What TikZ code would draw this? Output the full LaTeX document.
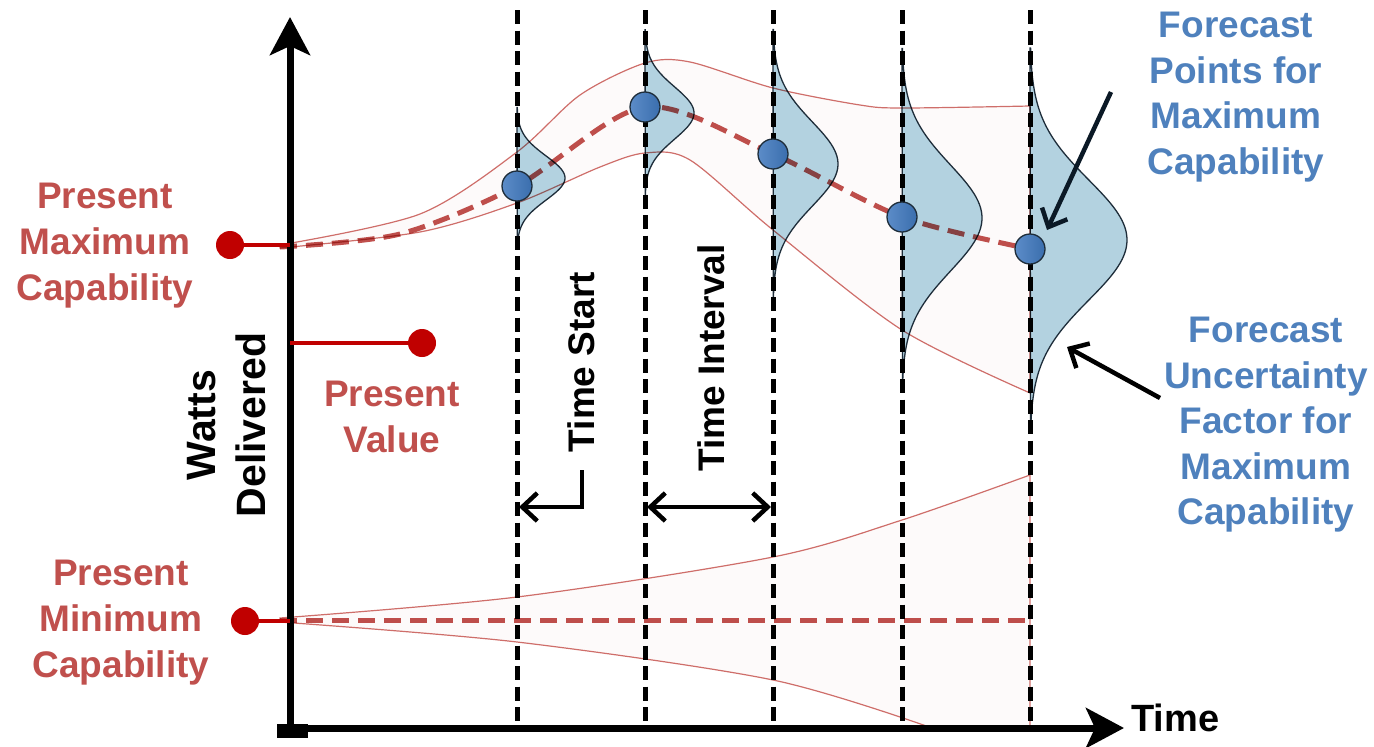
\documentclass[tikz,border=0pt]{standalone}
\usepackage{fontspec}
\setmainfont{Liberation Sans}
\usetikzlibrary{arrows.meta}
\definecolor{redtxt}{HTML}{C0504D}
\definecolor{bluetxt}{HTML}{4F81BD}
\definecolor{dotred}{HTML}{C00000}
\definecolor{bandline}{HTML}{D0706C}
\definecolor{bandfill}{HTML}{FDFAFA}
\definecolor{bellfill}{HTML}{B3D2E0}
\definecolor{belledge}{HTML}{1E2D3A}
\definecolor{navy}{HTML}{0B1926}
\definecolor{ptlight}{HTML}{5C8CC8}
\definecolor{ptdark}{HTML}{3A6EAD}
\begin{document}
\begin{tikzpicture}[x=1pt,y=-1pt,
  redlbl/.style={text=redtxt, font=\fontsize{37}{46}\selectfont\bfseries, align=center, inner sep=0pt},
  bluelbl/.style={text=bluetxt, font=\fontsize{37}{45.5}\selectfont\bfseries, align=center, inner sep=0pt},
  blacklbl/.style={text=black, font=\fontsize{38}{50}\selectfont\bfseries, align=center, inner sep=0pt},
  vline/.style={line width=5pt, dash pattern=on 14pt off 6.5pt, black},
  bandarea/.style={fill=bandfill},
  bandedge/.style={draw=bandline, line width=1.2pt, blend mode=multiply},
  meanline/.style={draw=redtxt, line width=5pt, dash pattern=on 17pt off 9pt, blend mode=multiply},
  bellshape/.style={fill=bellfill, draw=belledge, line width=1.3pt},
  fpoint/.style={circle, minimum size=30pt, inner sep=0pt, draw=belledge, line width=1.3pt, left color=ptlight, right color=ptdark},
  rdot/.style={circle, minimum size=28pt, inner sep=0pt, fill=dotred},
  rline/.style={draw=dotred, line width=3.5pt},
  axis/.style={line width=7pt, black, -{Stealth[length=38pt,width=40pt,inset=9pt]}},
  annarrow/.style={line width=4.5pt, -{Straight Barb[length=15pt,width=28pt]}},
]
\useasboundingbox (0,0) rectangle (1374,747);

% ---------- band outlines as paths ----------
\def\upperband{plot[smooth] coordinates {(280,245) (420,214) (517,152) (580,95) (645,63) (690,62) (773,88) (860,105) (902,108) (1030,106)}
  -- plot[smooth] coordinates {(1030,393) (902,330) (773,230) (690,160) (645,153) (600,167) (517,203) (420,232) (280,248)} -- cycle}
\def\lowerband{plot[smooth] coordinates {(280,618) (517,597) (773,557) (902,520) (1030,475)}
  -- (1030,728) -- (932,728)
  -- plot[smooth] coordinates {(932,728) (773,680) (517,642) (280,622)} -- cycle}

\path[bandarea] \upperband;
\path[bandarea] \lowerband;

% ---------- bells ----------
\foreach \xo/\cc/\ss/\aa in {517/178/22/48, 645/113/26/49, 773/164/42/65, 902/218/53/80, 1030/240/60/97}{
  \path[bellshape] (\xo,\cc-3.2*\ss) -- plot[domain=-3.2:3.2, samples=90, smooth] ({\xo+\aa*exp(-0.5*\x*\x)},{\cc+\ss*\x}) -- cycle;
}

\path[bandedge] \upperband;
\path[bandedge] \lowerband;

% ---------- coordinates for forecast points ----------
\coordinate (s0) at (280,247);
\coordinate (s1) at (400,234);
\coordinate (c1) at (517,186);
\coordinate (c2) at (645,107);
\coordinate (c3) at (773,154);
\coordinate (c4) at (902,217);
\coordinate (c5) at (1030,249);

% mean lines
\draw[meanline] plot[smooth] coordinates {(s0) (s1) (c1) (c2) (c3) (c4) (c5)};
\coordinate (m0) at (280,620);
\coordinate (m1) at (1030,620);
\draw[meanline] (m0) -- (m1);

% ---------- vertical dashed lines ----------
\foreach \xo/\nm in {517/1, 645/2, 773/3, 902/4, 1030/5}{
  \coordinate (vt\nm) at (\xo,10);
  \coordinate (vb\nm) at (\xo,728);
  \draw[vline] (vt\nm) -- (vb\nm);
}

% ---------- forecast points ----------
\node[fpoint] (p1) at (c1) {};
\node[fpoint] (p2) at (c2) {};
\node[fpoint] (p3) at (c3) {};
\node[fpoint] (p4) at (c4) {};
\node[fpoint] (p5) at (c5) {};

% ---------- axes ----------
\coordinate (o) at (290,735);
\coordinate (ytop) at (290,17);
\coordinate (xo) at (285,728);
\coordinate (xend) at (1124,728);
\draw[axis] (o) -- (ytop);
\draw[axis] (xo) -- (xend);
\fill (277,724) rectangle (308,738);

% ---------- present markers ----------
\node[rdot] (dmax) at (230,245) {};
\coordinate (amax) at (290,245);
\draw[rline] (dmax) -- (amax);
\node[rdot] (dval) at (422,343) {};
\coordinate (aval) at (290,343);
\draw[rline] (aval) -- (dval);
\node[rdot] (dmin) at (245,621) {};
\coordinate (amin) at (290,621);
\draw[rline] (dmin) -- (amin);

% ---------- labels ----------
\node[redlbl] (tmax) at (105,246) {Present\\Maximum\\Capability};
\node[redlbl] (tval) at (392,417) {Present\\Value};
\node[redlbl] (tmin) at (121,623) {Present\\Minimum\\Capability};
\node[blacklbl, rotate=90, font=\fontsize{41}{50}\selectfont\bfseries] (tw) at (227,425) {Watts\\Delivered};
\node[blacklbl, rotate=90, font=\fontsize{37}{46}\selectfont\bfseries] (tts) at (581,362) {Time Start};
\node[blacklbl, rotate=90, font=\fontsize{37}{46}\selectfont\bfseries] (tti) at (711,358) {Time Interval};
\node[blacklbl, anchor=west] (ttime) at (1131,718) {Time};
\node[bluelbl] (tfp) at (1236,97) {Forecast\\Points for\\Maximum\\Capability};
\node[bluelbl] (tfu) at (1266,425) {Forecast\\Uncertainty\\Factor for\\Maximum\\Capability};

% ---------- time arrows ----------
\coordinate (ts0) at (582,470);
\coordinate (ts1) at (582,507);
\coordinate (ts2) at (519,507);
\draw[annarrow] (ts0) -- (ts1) -- (ts2);
\coordinate (ti1) at (647,507);
\coordinate (ti2) at (771,507);
\draw[line width=4.5pt, {Straight Barb[length=15pt,width=28pt]}-{Straight Barb[length=15pt,width=28pt]}] (ti1) -- (ti2);

% ---------- annotation arrows ----------
\coordinate (a1s) at (1111,92);
\coordinate (a1e) at (1047,230);
\draw[annarrow, navy] (a1s) -- (a1e);
\coordinate (a2s) at (1160,398);
\coordinate (a2e) at (1067,347);
\draw[annarrow] (a2s) -- (a2e);
\end{tikzpicture}
\end{document}
